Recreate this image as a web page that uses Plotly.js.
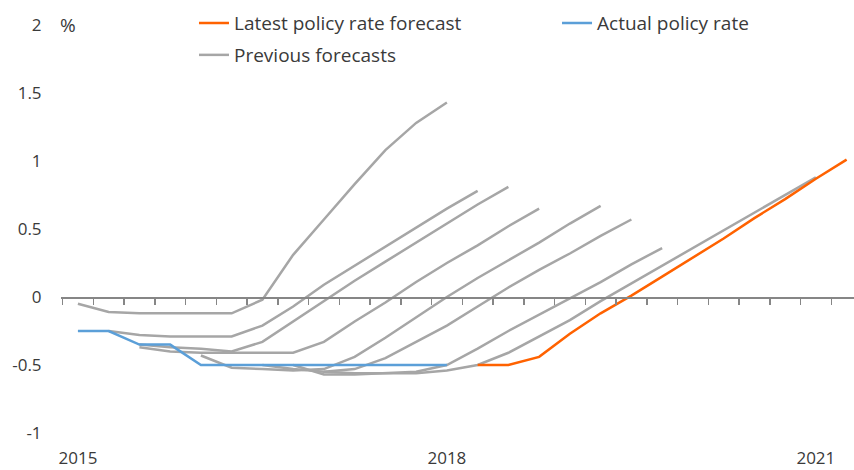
<!DOCTYPE html>
<html>
<head>
<meta charset="utf-8">
<script src="https://cdn.plot.ly/plotly-3.0.1.min.js"></script>
<style>
  html, body { margin: 0; padding: 0; background: #ffffff; }
  #chart { width: 854px; height: 470px; }
</style>
</head>
<body>
<div id="chart"></div>
<script>
// Quarterly categories
const quarters = [
  '2015 Q1','2015 Q2','2015 Q3','2015 Q4',
  '2016 Q1','2016 Q2','2016 Q3','2016 Q4',
  '2017 Q1','2017 Q2','2017 Q3','2017 Q4',
  '2018 Q1','2018 Q2','2018 Q3','2018 Q4',
  '2019 Q1','2019 Q2','2019 Q3','2019 Q4',
  '2020 Q1','2020 Q2','2020 Q3','2020 Q4',
  '2021 Q1','2021 Q2'
];
const yearTickVals = ['2015 Q1', '2018 Q1', '2021 Q1'];
const yearTickText = ['2015', '2018', '2021'];
const yTickVals = [-1, -0.5, 0, 0.5, 1, 1.5, 2];
const yTickText = ['-1', '-0.5', '0', '0.5', '1', '1.5', '2'];

// Actual policy rate
const actualStart = '2015 Q1';
const actualValues = [-0.25, -0.25, -0.35, -0.35, -0.5, -0.5, -0.5, -0.5, -0.5, -0.5, -0.5, -0.5, -0.5];

// Latest policy rate forecast
const latestStart = '2018 Q2';
const latestValues = [-0.5, -0.5, -0.44, -0.27, -0.12, 0.01, 0.15, 0.29, 0.43, 0.58, 0.72, 0.87, 1.01];

// Previous forecasts
const prev1Start = '2015 Q1';
const prev1Values = [-0.05, -0.11, -0.12, -0.12, -0.12, -0.12, -0.02, 0.31, 0.57, 0.83, 1.08, 1.28, 1.43];
const prev2Start = '2015 Q2';
const prev2Values = [-0.25, -0.28, -0.29, -0.29, -0.29, -0.21, -0.07, 0.09, 0.23, 0.37, 0.51, 0.65, 0.78];
const prev3Start = '2015 Q3';
const prev3Values = [-0.35, -0.37, -0.38, -0.40, -0.33, -0.18, -0.03, 0.12, 0.26, 0.40, 0.54, 0.68, 0.81];
const prev4Start = '2015 Q3';
const prev4Values = [-0.37, -0.40, -0.41, -0.41, -0.41, -0.41, -0.33, -0.18, -0.04, 0.11, 0.25, 0.38, 0.52, 0.65];
const prev5Start = '2016 Q1';
const prev5Values = [-0.43, -0.52, -0.53, -0.54, -0.53, -0.44, -0.30, -0.15, 0.0, 0.14, 0.27, 0.40, 0.54, 0.67];
const prev6Start = '2016 Q3';
const prev6Values = [-0.5, -0.53, -0.55, -0.53, -0.45, -0.33, -0.21, -0.07, 0.07, 0.2, 0.32, 0.45, 0.57];
const prev7Start = '2016 Q4';
const prev7Values = [-0.5, -0.57, -0.57, -0.56, -0.55, -0.5, -0.38, -0.25, -0.13, -0.01, 0.11, 0.24, 0.36];
const prev8Start = '2017 Q1';
const prev8Values = [-0.55, -0.56, -0.56, -0.56, -0.54, -0.5, -0.41, -0.29, -0.17, -0.03, 0.10, 0.23, 0.36, 0.49, 0.62, 0.75, 0.88];

const previous = [
  [prev1Start, prev1Values], [prev2Start, prev2Values], [prev3Start, prev3Values],
  [prev4Start, prev4Values], [prev5Start, prev5Values], [prev6Start, prev6Values],
  [prev7Start, prev7Values], [prev8Start, prev8Values]
];

function xs(start, vals) {
  const i0 = quarters.indexOf(start);
  return quarters.slice(i0, i0 + vals.length);
}

const GRAY = '#a6a6a6';
const ORANGE = '#ff6200';
const BLUE = '#5b9fd8';
const TEXT = '#3a3a3a';
const AXIS = '#868686';
const FONT = 'Open Sans, sans-serif';

const traces = [];
previous.forEach(function (p, k) {
  traces.push({
    x: xs(p[0], p[1]), y: p[1], type: 'scatter', mode: 'lines',
    xaxis: 'x', yaxis: 'y',
    name: 'Previous forecasts', legendgroup: 'prev', legend: 'legend3',
    showlegend: k === 0,
    line: { color: GRAY, width: 2.5 }
  });
});
traces.push({
  x: xs(latestStart, latestValues), y: latestValues, type: 'scatter', mode: 'lines',
  xaxis: 'x', yaxis: 'y',
  name: 'Latest policy rate forecast', legend: 'legend',
  line: { color: ORANGE, width: 2.5 }
});
traces.push({
  x: xs(actualStart, actualValues), y: actualValues, type: 'scatter', mode: 'lines',
  xaxis: 'x2', yaxis: 'y',
  name: 'Actual policy rate', legend: 'legend2',
  line: { color: BLUE, width: 2.5 }
});

const xRange = [-0.55, 25.24];
const legendFont = { family: FONT, size: 19, color: TEXT };

const layout = {
  width: 854, height: 470,
  margin: { l: 61, r: 0, t: 25, b: 37 },
  paper_bgcolor: '#ffffff', plot_bgcolor: '#ffffff',
  font: { family: FONT, size: 17, color: TEXT },
  showlegend: true,
  xaxis: {
    type: 'category', categoryorder: 'array', categoryarray: quarters,
    range: xRange, showgrid: false, zeroline: false, showline: false,
    tickmode: 'array', tickvals: yearTickVals, ticktext: yearTickText,
    ticks: 'outside', ticklen: 10, tickcolor: 'rgba(0,0,0,0)',
    tickfont: { family: FONT, size: 17, color: TEXT },
    automargin: false, fixedrange: true
  },
  xaxis2: {
    overlaying: 'x', anchor: 'free', position: 1 / 3,
    type: 'category', categoryorder: 'array', categoryarray: quarters,
    range: xRange, showgrid: false, zeroline: false,
    showline: true, linecolor: AXIS, linewidth: 1.5,
    tickson: 'boundaries', dtick: 1, showticklabels: false,
    ticks: 'outside', ticklen: 6, tickwidth: 1.5, tickcolor: AXIS,
    automargin: false, fixedrange: true
  },
  yaxis: {
    range: [-1, 2], showgrid: false, zeroline: false, showline: false,
    tickmode: 'array', tickvals: yTickVals, ticktext: yTickText,
    ticks: 'outside', ticklen: 15, tickcolor: 'rgba(0,0,0,0)',
    tickfont: { family: FONT, size: 17, color: TEXT },
    automargin: false, fixedrange: true
  },
  legend: {
    x: 0.1677, y: 1.051, xanchor: 'left', yanchor: 'top',
    bgcolor: 'rgba(0,0,0,0)', font: legendFont
  },
  legend2: {
    x: 0.6255, y: 1.051, xanchor: 'left', yanchor: 'top',
    bgcolor: 'rgba(0,0,0,0)', font: legendFont
  },
  legend3: {
    x: 0.1677, y: 0.973, xanchor: 'left', yanchor: 'top',
    bgcolor: 'rgba(0,0,0,0)', font: legendFont
  },
  annotations: [
    { text: '%', xref: 'paper', yref: 'paper', x: 0, y: 1, xshift: -3,
      xanchor: 'left', yanchor: 'middle', showarrow: false,
      font: { family: FONT, size: 19, color: TEXT } }
  ]
};

Plotly.newPlot('chart', traces, layout, { displayModeBar: false, staticPlot: true });
</script>
</body>
</html>
